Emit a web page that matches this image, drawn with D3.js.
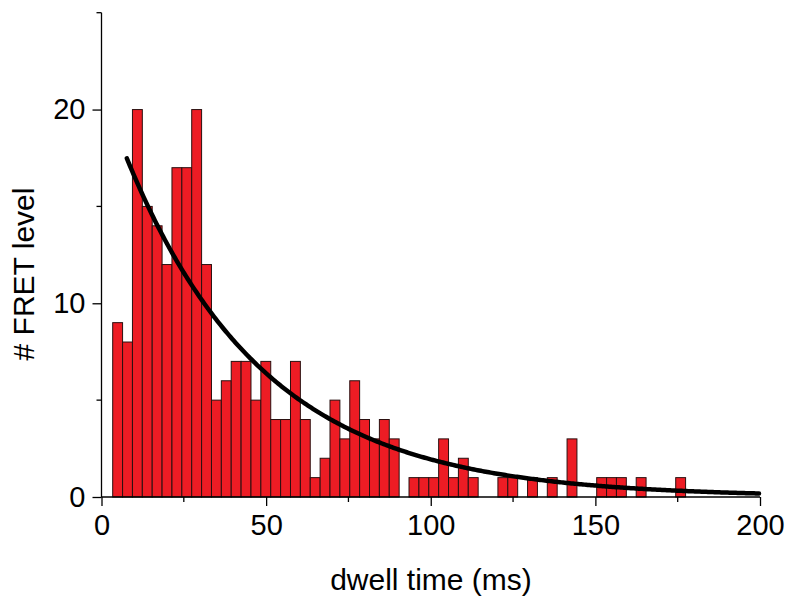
<!DOCTYPE html>
<html>
<head>
<meta charset="utf-8">
<script src="https://cdn.jsdelivr.net/npm/d3@7"></script>
<style>
  html, body { margin: 0; padding: 0; background: #fff; }
  svg { display: block; }
  text { font-family: "Liberation Sans", Arial, sans-serif; fill: #000; }
</style>
</head>
<body>
<svg id="chart" width="795" height="605"></svg>
<script>
// ---------- data ----------
// histogram of dwell times: 3 ms bins, first bin starts at 3.4 ms
const binWidth = 3;
const firstBinStart = 3.4;
const counts = [
  9, 8, 20, 15, 14, 12, 17, 17, 20, 12,
  5, 6, 7, 7, 5, 7, 4, 4, 7, 4,
  1, 2, 5, 3, 6, 4, 3, 4, 3, 0,
  1, 1, 1, 3, 1, 2, 1, 0, 0, 1,
  1, 0, 1, 0, 1, 0, 3, 0, 0, 1,
  1, 1, 0, 1, 0, 0, 0, 1
];
// single-exponential fit  y = A * exp(-t / tau)
const fitAmplitude = 21.0;
const fitTau = 42;
const fitStart = 7.7;
const fitEnd = 200;

const xTicks = [0, 50, 100, 150, 200];
const xMinorTicks = [25, 75, 125, 175];
const yTicks = [0, 10, 20];
const yMinorTicks = [5, 15, 25];
const xLabel = "dwell time (ms)";
const yLabel = "# FRET level";

// ---------- chart ----------
const svg = d3.select("#chart");
const x = d3.scaleLinear().domain([0, 200]).range([101.5, 760]);
const y = d3.scaleLinear().domain([0, 25]).range([497, 12.7]);

const bins = counts.map((c, i) => ({
  x0: firstBinStart + i * binWidth,
  x1: firstBinStart + (i + 1) * binWidth,
  n: c
})).filter(d => d.n > 0);

svg.append("g").selectAll("rect").data(bins).join("rect")
  .attr("x", d => x(d.x0))
  .attr("y", d => y(d.n))
  .attr("width", d => x(d.x1) - x(d.x0))
  .attr("height", d => y(0) - y(d.n))
  .attr("fill", "#ED1C24")
  .attr("stroke", "#2a1010")
  .attr("stroke-width", 1);

// fit curve
const fitPts = d3.range(fitStart, fitEnd + 0.001, 0.5).map(t => [t, fitAmplitude * Math.exp(-t / fitTau)]);
svg.append("path")
  .datum(fitPts)
  .attr("fill", "none")
  .attr("stroke", "#000")
  .attr("stroke-width", 4.5)
  .attr("stroke-linecap", "round")
  .attr("d", d3.line().x(d => x(d[0])).y(d => y(d[1])));

// x axis
const gx = svg.append("g").attr("transform", `translate(0,${y(0)})`);
gx.call(d3.axisBottom(x).tickValues(xTicks).tickSize(9).tickSizeOuter(0).tickPadding(8).tickFormat(d3.format("d")));
gx.append("g").selectAll("line").data(xMinorTicks).join("line")
  .attr("x1", d => x(d)).attr("x2", d => x(d)).attr("y1", 0).attr("y2", 5)
  .attr("stroke", "#000").attr("stroke-width", 1.3);
gx.select(".domain").attr("d", `M${x(0)},0H${x(200)}`).attr("stroke-width", 1.3);
gx.selectAll(".tick line").attr("stroke-width", 1.3);
gx.selectAll(".tick text").attr("font-size", 29).attr("font-family", "Liberation Sans, Arial, sans-serif");

// y axis
const gy = svg.append("g").attr("transform", `translate(${x(0)},0)`);
gy.call(d3.axisLeft(y).tickValues(yTicks).tickSize(9).tickSizeOuter(0).tickPadding(7).tickFormat(d3.format("d")));
gy.append("g").selectAll("line").data(yMinorTicks).join("line")
  .attr("y1", d => y(d)).attr("y2", d => y(d)).attr("x1", 0).attr("x2", -5)
  .attr("stroke", "#000").attr("stroke-width", 1.3);
gy.select(".domain").attr("d", `M0,${y(0)}V${y(25)}`).attr("stroke-width", 1.3);
gy.selectAll(".tick line").attr("stroke-width", 1.3);
gy.selectAll(".tick text").attr("font-size", 29).attr("font-family", "Liberation Sans, Arial, sans-serif");

// axis titles
svg.append("text")
  .attr("x", 431).attr("y", 590)
  .attr("text-anchor", "middle")
  .attr("font-size", 30)
  .text(xLabel);
svg.append("text")
  .attr("transform", "translate(34,274) rotate(-90)")
  .attr("text-anchor", "middle")
  .attr("font-size", 30)
  .text(yLabel);
</script>
</body>
</html>
